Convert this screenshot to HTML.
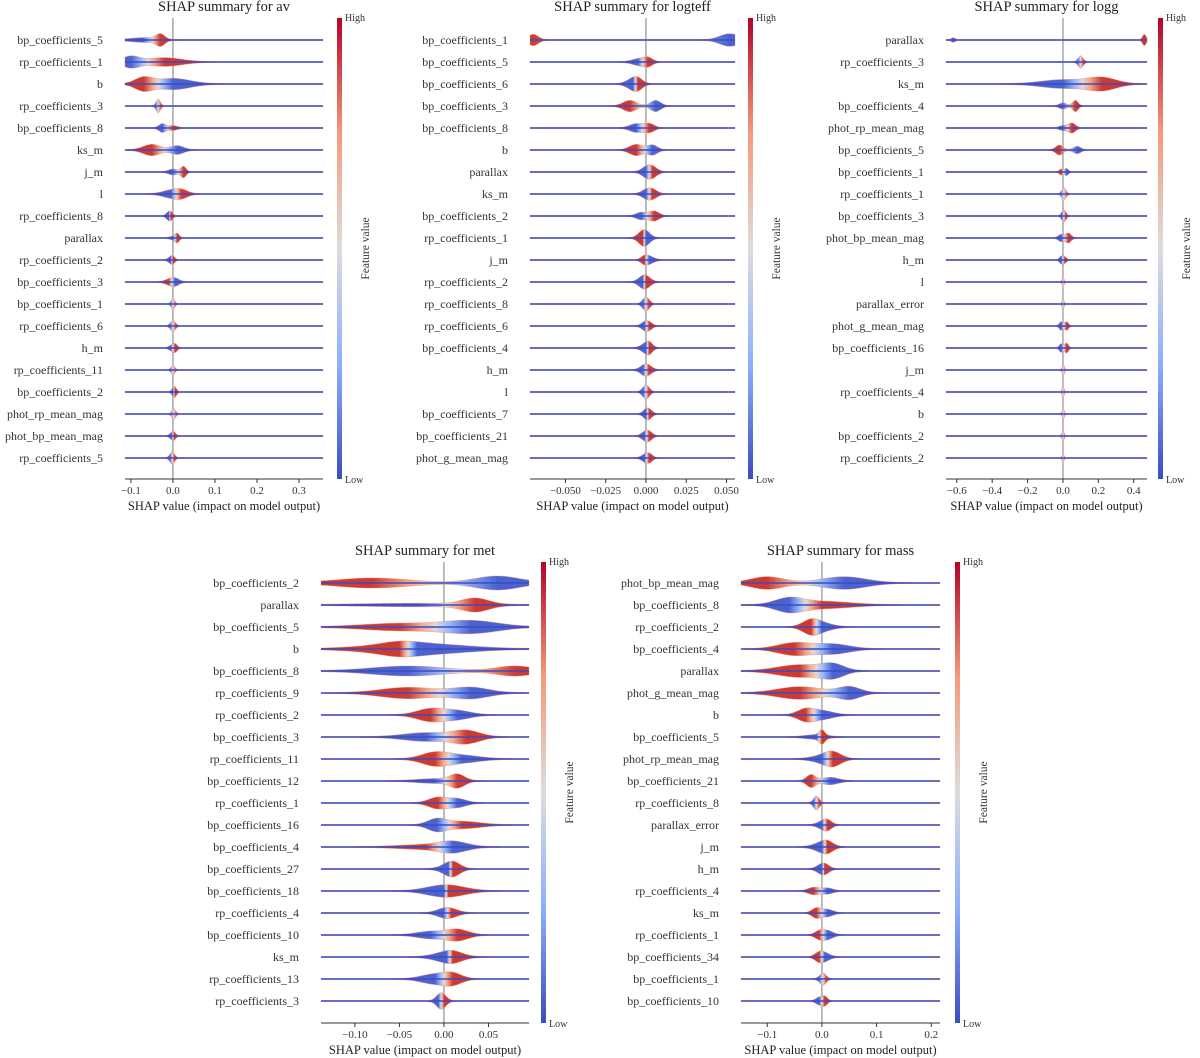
<!DOCTYPE html>
<html><head><meta charset="utf-8">
<style>
html,body{margin:0;padding:0;background:#fff;}
svg{display:block;font-family:"Liberation Serif","DejaVu Serif",serif;}
</style></head>
<body>
<svg id="chart" width="1200" height="1058" viewBox="0 0 1200 1058" xmlns="http://www.w3.org/2000/svg">
<defs>
<linearGradient id="cbar" x1="0" y1="1" x2="0" y2="0">
<stop offset="0" stop-color="#3b4cc0"/><stop offset="0.25" stop-color="#8db0fe"/><stop offset="0.5" stop-color="#dddddd"/><stop offset="0.75" stop-color="#f49a7b"/><stop offset="1" stop-color="#b40426"/>
</linearGradient>
</defs>
</svg>
<script>
// ---- data: each violin = [lowCenter, lowSigma, lowHeight, highCenter, highSigma, highHeight]
const avFeatures=["bp_coefficients_5","rp_coefficients_1","b","rp_coefficients_3","bp_coefficients_8","ks_m","j_m","l","rp_coefficients_8","parallax","rp_coefficients_2","bp_coefficients_3","bp_coefficients_1","rp_coefficients_6","h_m","rp_coefficients_11","bp_coefficients_2","phot_rp_mean_mag","phot_bp_mean_mag","rp_coefficients_5"];
const avViolins=[[-0.07,0.03,3,-0.03,0.01,8],[-0.1,0.02,8,-0.02,0.04,6],[0.0,0.04,8,-0.07,0.02,9],[-0.035,0.005,6,-0.035,0.004,4],[-0.025,0.008,6,0.0,0.01,3],[0.01,0.015,6,-0.05,0.02,8],[0.0,0.01,4,0.025,0.006,8],[-0.005,0.02,5,0.02,0.015,5],[-0.01,0.006,5,-0.005,0.005,3],[0.0,0.008,2,0.01,0.005,6],[-0.005,0.006,4,0.0,0.005,3],[0.005,0.01,5,-0.01,0.01,3],[0.0,0.004,5,0.0,0.004,3],[0.0,0.006,4,0.0,0.005,4],[-0.005,0.005,3,0.005,0.005,6],[0.0,0.004,4,0.0,0.004,3],[0.0,0.004,3,0.005,0.004,6],[0.0,0.004,3,0.003,0.004,5],[-0.003,0.005,4,0.003,0.004,4],[0.0,0.005,4,-0.003,0.005,5]];
const avTicks=[-0.1,0,0.1,0.2,0.3];
const avTickLabels=["\u22120.1","0.0","0.1","0.2","0.3"];

const teffFeatures=["bp_coefficients_1","bp_coefficients_5","bp_coefficients_6","bp_coefficients_3","bp_coefficients_8","b","parallax","ks_m","bp_coefficients_2","rp_coefficients_1","j_m","rp_coefficients_2","rp_coefficients_8","rp_coefficients_6","bp_coefficients_4","h_m","l","bp_coefficients_7","bp_coefficients_21","phot_g_mean_mag"];
const teffViolins=[[0.052,0.006,9,-0.07,0.003,8],[-0.005,0.004,4,0.001,0.003,6],[-0.008,0.004,7,-0.005,0.003,5],[0.006,0.003,8,-0.01,0.004,8],[-0.006,0.004,6,0.002,0.003,6],[0.004,0.003,7,-0.006,0.004,8],[0.0,0.003,6,0.004,0.003,7],[0.0,0.003,5,0.004,0.003,6],[-0.003,0.003,5,0.005,0.003,7],[0.0,0.003,6,-0.002,0.003,7],[0.002,0.003,5,-0.001,0.002,4],[-0.002,0.003,5,0.0,0.003,6],[0.0,0.002,6,0.0,0.002,4],[-0.001,0.002,5,0.002,0.002,5],[0.0,0.003,6,0.002,0.002,5],[0.0,0.003,5,0.0,0.003,4],[0.0,0.002,6,0.0,0.002,4],[0.0,0.002,5,0.002,0.002,5],[-0.001,0.002,5,0.002,0.002,6],[-0.001,0.002,4,0.002,0.002,6]];
const teffTicks=[-0.05,-0.025,0,0.025,0.05];
const teffTickLabels=["\u22120.050","\u22120.025","0.000","0.025","0.050"];

const loggFeatures=["parallax","rp_coefficients_3","ks_m","bp_coefficients_4","phot_rp_mean_mag","bp_coefficients_5","bp_coefficients_1","rp_coefficients_1","bp_coefficients_3","phot_bp_mean_mag","h_m","l","parallax_error","phot_g_mean_mag","bp_coefficients_16","j_m","rp_coefficients_4","b","bp_coefficients_2","rp_coefficients_2"];
const loggViolins=[[-0.62,0.01,3,0.46,0.01,8],[0.1,0.015,6,0.1,0.01,3],[0.0,0.12,6,0.22,0.08,9],[0.0,0.02,4,0.07,0.015,8],[0.0,0.02,3,0.05,0.02,7],[0.08,0.02,5,-0.02,0.02,7],[0.02,0.01,5,-0.01,0.01,4],[0.0,0.01,5,0.01,0.01,5],[0.01,0.01,5,0.0,0.01,5],[-0.01,0.015,5,0.03,0.015,7],[-0.01,0.01,5,0.01,0.01,4],[0.0,0.005,4,0.0,0.005,4],[0.0,0.006,4,0.0,0.005,3],[-0.01,0.01,6,0.02,0.01,6],[-0.01,0.01,6,0.02,0.01,7],[0.0,0.006,4,0.005,0.005,4],[0.0,0.006,4,0.0,0.005,4],[0.0,0.006,4,0.003,0.005,4],[0.0,0.006,4,0.0,0.005,5],[0.0,0.005,4,0.0,0.005,3]];
const loggTicks=[-0.6,-0.4,-0.2,0,0.2,0.4];
const loggTickLabels=["\u22120.6","\u22120.4","\u22120.2","0.0","0.2","0.4"];

const metFeatures=["bp_coefficients_2","parallax","bp_coefficients_5","b","bp_coefficients_8","rp_coefficients_9","rp_coefficients_2","bp_coefficients_3","rp_coefficients_11","bp_coefficients_12","rp_coefficients_1","bp_coefficients_16","bp_coefficients_4","bp_coefficients_27","bp_coefficients_18","rp_coefficients_4","bp_coefficients_10","ks_m","rp_coefficients_13","rp_coefficients_3"];
const metViolins=[[0.06,0.025,10,-0.08,0.04,7],[-0.03,0.06,2,0.035,0.015,9],[0.03,0.03,9,-0.05,0.04,5],[-0.03,0.05,8,-0.05,0.02,4],[-0.04,0.04,7,0.08,0.02,7],[0.03,0.02,8,-0.04,0.03,8],[0.015,0.015,6,-0.015,0.015,9],[-0.02,0.025,6,0.025,0.015,9],[0.02,0.02,5,-0.01,0.015,9],[-0.01,0.02,3,0.015,0.008,9],[0.015,0.01,6,-0.007,0.01,8],[-0.008,0.01,8,0.02,0.02,5],[0.01,0.015,7,-0.02,0.03,3],[0.005,0.01,4,0.01,0.008,8],[0.0,0.02,5,0.005,0.02,4],[0.003,0.01,5,0.005,0.01,3],[-0.015,0.015,5,0.015,0.012,8],[0.003,0.015,6,0.01,0.01,4],[-0.01,0.015,7,0.01,0.01,7],[-0.003,0.005,6,-0.003,0.005,6]];
const metTicks=[-0.1,-0.05,0,0.05];
const metTickLabels=["\u22120.10","\u22120.05","0.00","0.05"];

const massFeatures=["phot_bp_mean_mag","bp_coefficients_8","rp_coefficients_2","bp_coefficients_4","parallax","phot_g_mean_mag","b","bp_coefficients_5","phot_rp_mean_mag","bp_coefficients_21","rp_coefficients_8","parallax_error","j_m","h_m","rp_coefficients_4","ks_m","rp_coefficients_1","bp_coefficients_34","bp_coefficients_1","bp_coefficients_10"];
const massViolins=[[0.04,0.04,9,-0.1,0.03,9],[-0.06,0.025,9,0.0,0.05,5],[0.0,0.02,5,-0.02,0.015,9],[0.02,0.03,7,-0.05,0.03,9],[0.02,0.02,9,-0.04,0.04,9],[0.05,0.02,9,-0.04,0.04,9],[0.0,0.02,6,-0.03,0.015,8],[-0.01,0.02,3,0.0,0.005,8],[0.0,0.02,4,0.02,0.015,9],[0.015,0.015,5,-0.02,0.008,9],[-0.01,0.005,6,-0.01,0.005,4],[0.0,0.01,4,0.01,0.008,6],[0.0,0.015,6,0.01,0.01,5],[0.0,0.01,5,0.005,0.008,4],[0.01,0.01,4,-0.015,0.01,5],[0.01,0.01,5,-0.01,0.008,7],[0.01,0.01,6,-0.005,0.008,5],[0.005,0.01,5,-0.005,0.008,5],[0.0,0.006,4,0.003,0.005,5],[-0.005,0.006,5,0.005,0.005,6]];
const massTicks=[-0.1,0,0.1,0.2];
const massTickLabels=["\u22120.1","0.0","0.1","0.2"];

const panels=[
 {key:"av",title:"SHAP summary for av",features:avFeatures,violins:avViolins,ticks:avTicks,tl:avTickLabels,dom:[-0.114,0.357],px:[125,323],top:18,bottom:479,row0:40,cbx:337},
 {key:"logteff",title:"SHAP summary for logteff",features:teffFeatures,violins:teffViolins,ticks:teffTicks,tl:teffTickLabels,dom:[-0.072,0.0553],px:[530,735],top:18,bottom:479,row0:40,cbx:748},
 {key:"logg",title:"SHAP summary for logg",features:loggFeatures,violins:loggViolins,ticks:loggTicks,tl:loggTickLabels,dom:[-0.661,0.475],px:[946,1147],top:18,bottom:479,row0:40,cbx:1158},
 {key:"met",title:"SHAP summary for met",features:metFeatures,violins:metViolins,ticks:metTicks,tl:metTickLabels,dom:[-0.138,0.0955],px:[321,529],top:562,bottom:1023,row0:583,cbx:541},
 {key:"mass",title:"SHAP summary for mass",features:massFeatures,violins:massViolins,ticks:massTicks,tl:massTickLabels,dom:[-0.148,0.216],px:[741,940],top:562,bottom:1023,row0:583,cbx:955}
];
const HSCALE=0.65;

const NS="http://www.w3.org/2000/svg";
const svg=document.getElementById("chart");
const defs=svg.querySelector("defs");
function mk(tag,attrs,parent){const e=document.createElementNS(NS,tag);for(const k in attrs)e.setAttribute(k,attrs[k]);(parent||svg).appendChild(e);return e;}

panels.forEach((p,pi)=>{
 const g=mk("g",{});
 
 
 const sx=v=>p.px[0]+(v-p.dom[0])/(p.dom[1]-p.dom[0])*(p.px[1]-p.px[0]);
 const cx=(p.px[0]+p.px[1])/2;
 const t=mk("text",{x:cx,y:p.top-7,"text-anchor":"middle","font-size":"14.5",fill:"#222"},g);
 t.textContent=p.title;
 
 
 const zl=mk("line",{x1:sx(0),x2:sx(0),y1:p.top,y2:p.bottom,stroke:"#999","stroke-width":1.3},g);
 
 
 p.features.forEach((f,i)=>{
  const y=p.row0+22*i;
  const v=p.violins[i];
  const lab=mk("text",{x:p.px[0]-22,y:y+4,"text-anchor":"end","font-size":"12",fill:"#333"},g);
  lab.textContent=f;
  
  
  const gid="g"+pi+"_"+i;
  let x1=sx(v[0]),x2=sx(v[3]);
  if(Math.abs(x2-x1)<2){x1-=3;x2+=3;}
  const lg=mk("linearGradient",{id:gid,gradientUnits:"userSpaceOnUse",x1:x1,y1:0,x2:x2,y2:0},defs);
  [["0","#4a63d3"],["0.3","#98b8fc"],["0.5","#e2dad6"],["0.7","#f5a588"],["1","#cc3a33"]].forEach(s=>mk("stop",{offset:s[0],"stop-color":s[1]},lg));
  const N=160;let up=[],dn=[];
  for(let k=0;k<=N;k++){
   const xv=p.dom[0]+(p.dom[1]-p.dom[0])*k/N;
   const h=HSCALE*(v[2]*Math.exp(-0.5*((xv-v[0])/v[1])**2)+v[5]*Math.exp(-0.5*((xv-v[3])/v[4])**2))+0.5;
   const X=sx(xv).toFixed(1);
   up.push(X+","+(y-h).toFixed(1));dn.unshift(X+","+(y+h).toFixed(1));
  }
  const path=mk("path",{d:"M"+up.join("L")+"L"+dn.join("L")+"Z",fill:"url(#"+gid+")",stroke:"#f08a70","stroke-width":0.6,"stroke-opacity":0.7},g);
  
  
  const bl=mk("line",{x1:p.px[0],x2:p.px[1],y1:y,y2:y,stroke:"#3b4cc0","stroke-width":1.4},g);
  
  
 });
 const ax=mk("line",{x1:p.px[0],x2:p.px[1],y1:p.bottom,y2:p.bottom,stroke:"#333","stroke-width":1},g);
 
 
 p.ticks.forEach((tv,j)=>{
  const X=sx(tv);
  mk("line",{x1:X,x2:X,y1:p.bottom,y2:p.bottom+4,stroke:"#333","stroke-width":1},g);
  const tl=mk("text",{x:X,y:p.bottom+15,"text-anchor":"middle","font-size":"11",fill:"#333"},g);
  tl.textContent=p.tl[j];
  
  
 });
 const xl=mk("text",{x:cx,y:p.bottom+31,"text-anchor":"middle","font-size":"12.5",fill:"#222"},g);
 xl.textContent="SHAP value (impact on model output)";
 
 
 const cb=mk("rect",{x:p.cbx,y:p.top,width:5,height:p.bottom-p.top,fill:"url(#cbar)"},g);
 
 
 const hi=mk("text",{x:p.cbx+8,y:p.top+3,"font-size":"10",fill:"#333"},g);hi.textContent="High";
 
 
 const lo=mk("text",{x:p.cbx+8,y:p.bottom+4,"font-size":"10",fill:"#333"},g);lo.textContent="Low";
 
 
 const my=(p.top+p.bottom)/2;
 const fv=mk("text",{x:p.cbx+32,y:my,"text-anchor":"middle","font-size":"11.5",fill:"#333",transform:"rotate(-90 "+(p.cbx+32)+" "+my+")"},g);
 fv.textContent="Feature value";
 
 
});
</script>
</body></html>
